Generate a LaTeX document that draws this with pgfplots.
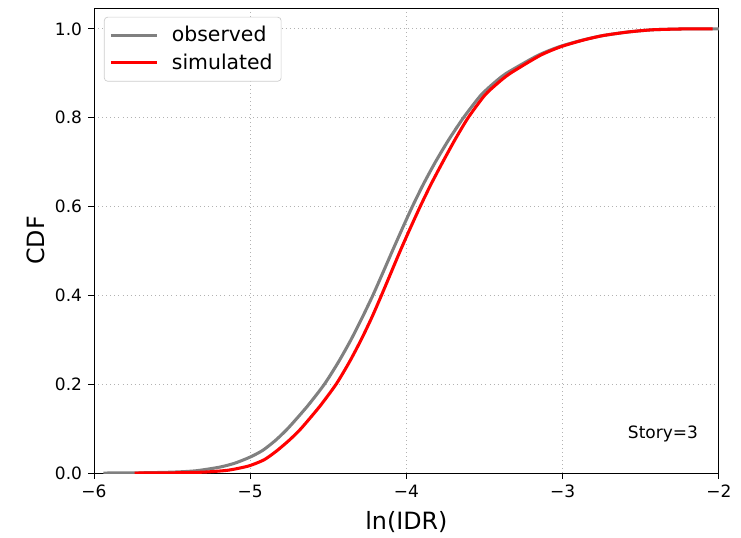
\documentclass[border=0pt]{standalone}
\usepackage{pgfplots}
\pgfplotsset{compat=1.18}
\usepackage{fontspec}
\setmainfont{DejaVu Sans}
\usetikzlibrary{calc}
\definecolor{mplgray}{HTML}{808080}
\definecolor{mplred}{HTML}{FF0000}
\begin{document}
\begin{tikzpicture}
\begin{axis}[
  scale only axis,
  width=367.8pt, height=273.7pt,
  xmin=-6, xmax=-2, ymin=0, ymax=1.047,
  xtick={-6,-5,-4,-3,-2},
  xticklabels={−6,−5,−4,−3,−2},
  ytick={0,0.2,0.4,0.6,0.8,1.0},
  yticklabels={0.0,0.2,0.4,0.6,0.8,1.0},
  tick align=outside, tick pos=left,
  major tick length=3.5pt,
  every tick/.style={black, line width=0.5pt},
  axis line style={line width=0.5pt},
  ticklabel style={font=\fontsize{10}{12}\selectfont},
  grid=major,
  grid style={dotted, gray!60, line width=0.5pt},
  xlabel={ln(IDR)}, ylabel={CDF},
  label style={font=\fontsize{14}{16}\selectfont},
  xlabel style={yshift=-1pt},
  ylabel style={yshift=-1pt},
  legend style={at={(0.016,0.981)}, anchor=north west, draw=black!20, rounded corners=2pt,
    font=\fontsize{12}{14}\selectfont, inner xsep=3pt, inner ysep=3.5pt, row sep=1.5pt},
  legend cell align=left,
  legend image code/.code={\draw[#1] (0pt,0pt) -- (27pt,0pt); \path (33pt,0pt);},
]
\addplot[mplgray, line width=1.8pt, smooth, tension=0.4] coordinates {
(-5.94,0.000) (-5.70,0.0005) (-5.50,0.002) (-5.35,0.005) (-5.20,0.013) (-5.10,0.022)
(-5.00,0.036) (-4.92,0.051) (-4.84,0.073) (-4.76,0.100) (-4.635,0.150) (-4.525,0.200) (-4.435,0.250)
(-4.355,0.300) (-4.283,0.350) (-4.215,0.400) (-4.152,0.450) (-4.090,0.500) (-4.027,0.550)
(-3.962,0.600) (-3.892,0.650) (-3.815,0.700) (-3.730,0.750) (-3.635,0.800) (-3.525,0.850)
(-3.440,0.878) (-3.360,0.900) (-3.160,0.940) (-3.020,0.960) (-2.870,0.975) (-2.740,0.985) (-2.580,0.993)
(-2.420,0.998) (-2.200,1.000) (-2.000,1.000)
};
\addlegendentry{observed}
\addplot[mplred, line width=1.8pt, smooth, tension=0.4] coordinates {
(-5.74,0.000) (-5.50,0.0005) (-5.30,0.002) (-5.15,0.006) (-5.07,0.011) (-5.00,0.017)
(-4.91,0.030) (-4.83,0.050) (-4.75,0.074) (-4.675,0.100) (-4.555,0.150) (-4.450,0.200) (-4.365,0.250)
(-4.290,0.300) (-4.222,0.350) (-4.160,0.400) (-4.100,0.450) (-4.040,0.500) (-3.977,0.550)
(-3.912,0.600) (-3.843,0.650) (-3.768,0.700) (-3.690,0.750) (-3.605,0.800) (-3.500,0.850)
(-3.415,0.878) (-3.335,0.900) (-3.145,0.940) (-3.010,0.960) (-2.865,0.975) (-2.740,0.985) (-2.580,0.993)
(-2.420,0.998) (-2.200,1.000) (-2.040,1.000)
};
\addlegendentry{simulated}
\node[anchor=east, font=\fontsize{10}{12}\selectfont] at (rel axis cs:0.976,0.084) {Story=3};
\end{axis}
\pgfresetboundingbox
\path ($(current axis.south west)+(-55.3pt,-37.7pt)$) rectangle ($(current axis.north east)+(13pt,4.7pt)$);
\end{tikzpicture}
\end{document}
